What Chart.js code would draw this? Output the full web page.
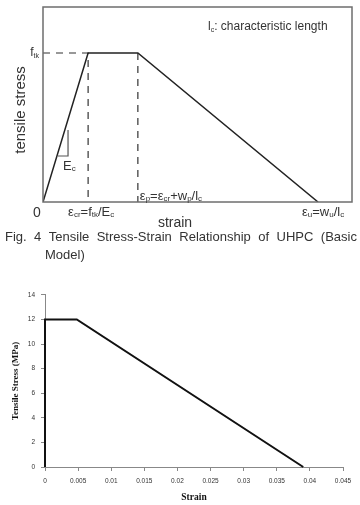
<!DOCTYPE html>
<html>
<head>
<meta charset="utf-8">
<script src="https://cdn.jsdelivr.net/npm/chart.js@4.4.0/dist/chart.umd.min.js"></script>
<style>
  html, body { margin: 0; padding: 0; background: #fff; }
  body { width: 360px; height: 505px; position: relative; overflow: hidden; font-family: "Liberation Sans", Arial, sans-serif; }
  #schematic { position: absolute; left: 0; top: 0; }
  #curve { position: absolute; left: 0; top: 285px; }
  .caption { position: absolute; left: 5px; top: 228px; width: 352px; font-size: 13px; line-height: 18px; color: #333; }
  .caption .l1 { display: flex; justify-content: space-between; }
  .caption .l2 { padding-left: 40px; }
</style>
</head>
<body>
<canvas id="schematic" width="360" height="230"></canvas>
<div class="caption">
  <div class="l1"><span>Fig.</span><span>4</span><span>Tensile</span><span>Stress-Strain</span><span>Relationship</span><span>of</span><span>UHPC</span><span>(Basic</span></div>
  <div class="l2">Model)</div>
</div>
<canvas id="curve" width="360" height="220"></canvas>
<script>
// Schematic model (normalised units)
const schemStrain = [0, 0.146, 0.307, 0.89];
const schemStress = [0, 0.764, 0.764, 0];
// small slope triangle marking Ec
const slopeX = [0.0485, 0.081, 0.081];
const slopeY = [0.236, 0.236, 0.369];

// Tensile stress-strain curve of UHPC
const strain = [0, 0, 0.0048, 0.039];
const stress = [0, 12, 12, 0];
const xTickLabels = ['0', '0.005', '0.01', '0.015', '0.02', '0.025', '0.03', '0.035', '0.04', '0.045'];
const yTickLabels = ['0', '2', '4', '6', '8', '10', '12', '14'];

function toPoints(xs, ys) {
    return xs.map((x, i) => ({ x: x, y: ys[i] }));
}

// draw text made of normal and subscript parts
function drawRich(ctx, parts, x, y, size, align) {
    const subSize = Math.round(size * 0.62);
    const font = s => `${s}px "Liberation Sans", Arial, sans-serif`;
    let total = 0;
    parts.forEach(p => {
        ctx.font = font(p[1] ? subSize : size);
        total += ctx.measureText(p[0]).width;
    });
    let cx = align === 'right' ? x - total : (align === 'center' ? x - total / 2 : x);
    ctx.textAlign = 'left';
    ctx.textBaseline = 'middle';
    parts.forEach(p => {
        ctx.font = font(p[1] ? subSize : size);
        ctx.fillText(p[0], cx, p[1] ? y + size * 0.22 : y);
        cx += ctx.measureText(p[0]).width;
    });
}

const schematicLabels = {
    id: 'schematicLabels',
    afterDraw(chart) {
        const ctx = chart.ctx;
        const area = chart.chartArea;
        const xs = chart.scales.x;
        const ys = chart.scales.y;
        ctx.save();
        // frame
        ctx.strokeStyle = '#6e6e6e';
        ctx.lineWidth = 1.5;
        ctx.strokeRect(area.left, area.top, area.right - area.left, area.bottom - area.top);

        ctx.fillStyle = '#333';
        const xCr = xs.getPixelForValue(schemStrain[1]);
        const xP = xs.getPixelForValue(schemStrain[2]);
        const xU = xs.getPixelForValue(schemStrain[3]);
        const yTk = ys.getPixelForValue(schemStress[1]);

        drawRich(ctx, [['f'], ['tk', 1]], area.left - 4, yTk, 12, 'right');
        drawRich(ctx, [['l'], ['c', 1], [': characteristic length']], 208, area.top + 20, 12, 'left');
        drawRich(ctx, [['E'], ['c', 1]], xs.getPixelForValue(slopeX[0]) + 5, ys.getPixelForValue(slopeY[0]) + 10, 13, 'left');
        drawRich(ctx, [['ε'], ['cr', 1], ['=f'], ['tk', 1], ['/E'], ['c', 1]], xCr - 20, area.bottom + 10, 13, 'left');
        drawRich(ctx, [['ε'], ['p', 1], ['=ε'], ['cr', 1], ['+w'], ['p', 1], ['/l'], ['c', 1]], xP + 2, area.bottom - 6, 13, 'left');
        drawRich(ctx, [['ε'], ['u', 1], ['=w'], ['u', 1], ['/l'], ['c', 1]], xU - 16, area.bottom + 10, 13, 'left');

        ctx.font = '14px "Liberation Sans", Arial, sans-serif';
        ctx.textAlign = 'center';
        ctx.textBaseline = 'middle';
        ctx.fillText('0', area.left - 6, area.bottom + 11);
        ctx.fillText('strain', 175, area.bottom + 21);
        ctx.translate(21, 110);
        ctx.rotate(-Math.PI / 2);
        ctx.font = '15px "Liberation Sans", Arial, sans-serif';
        ctx.fillText('tensile stress', 0, 0);
        ctx.restore();
    }
};

new Chart(document.getElementById('schematic'), {
    type: 'line',
    data: {
        datasets: [
            {
                data: toPoints(schemStrain, schemStress),
                borderColor: '#222',
                borderWidth: 1.5,
                pointRadius: 0,
                tension: 0
            },
            {
                data: toPoints([0, schemStrain[1], schemStrain[1]], [schemStress[1], schemStress[1], 0]),
                borderColor: '#333',
                borderWidth: 1.2,
                borderDash: [7, 6],
                pointRadius: 0
            },
            {
                data: toPoints([schemStrain[2], schemStrain[2]], [schemStress[2], 0]),
                borderColor: '#333',
                borderWidth: 1.2,
                borderDash: [7, 6],
                pointRadius: 0
            },
            {
                data: toPoints(slopeX, slopeY),
                borderColor: '#555',
                borderWidth: 1.2,
                pointRadius: 0
            }
        ]
    },
    options: {
        responsive: false,
        animation: false,
        devicePixelRatio: 1,
        layout: { padding: { left: 43, right: 8, top: 7, bottom: 28 } },
        scales: {
            x: { type: 'linear', min: 0, max: 1, display: false },
            y: { type: 'linear', min: 0, max: 1, display: false }
        },
        plugins: { legend: { display: false }, tooltip: { enabled: false } }
    },
    plugins: [schematicLabels]
});

const tickFont = { family: '"Liberation Sans", Arial, sans-serif', size: 6.5 };
const titleFont = { family: '"Liberation Serif", "Times New Roman", serif', size: 9.5, weight: 'bold' };

new Chart(document.getElementById('curve'), {
    type: 'line',
    data: {
        datasets: [{
            data: toPoints(strain, stress),
            borderColor: '#111',
            borderWidth: 2,
            pointRadius: 0,
            tension: 0,
            clip: 4
        }]
    },
    options: {
        responsive: false,
        animation: false,
        devicePixelRatio: 1,
        layout: { padding: { left: 0, right: 17, top: 6, bottom: 0 } },
        scales: {
            x: {
                type: 'linear',
                min: 0,
                max: 0.045,
                ticks: {
                    stepSize: 0.005,
                    autoSkip: false,
                    maxRotation: 0,
                    padding: 6,
                    color: '#333',
                    font: tickFont,
                    callback: (v, i) => xTickLabels[i]
                },
                grid: { drawOnChartArea: false, tickLength: 4, color: '#888' },
                border: { color: '#888', width: 1 },
                title: { display: true, text: 'Strain', color: '#111', font: titleFont, padding: { top: 0, bottom: 2 } },
                afterFit(scale) { scale.height = 38; }
            },
            y: {
                type: 'linear',
                min: 0,
                max: 14,
                ticks: {
                    stepSize: 2,
                    padding: 6,
                    color: '#333',
                    font: tickFont,
                    callback: (v, i) => yTickLabels[i]
                },
                grid: { drawOnChartArea: false, tickLength: 4, color: '#888' },
                border: { color: '#888', width: 1 },
                title: { display: true, text: 'Tensile Stress (MPa)', color: '#111', font: { ...titleFont, size: 9 }, padding: { top: 10, bottom: 0 } },
                afterFit(scale) { scale.width = 45; }
            }
        },
        plugins: { legend: { display: false }, tooltip: { enabled: false } }
    }
});
</script>
</body>
</html>
